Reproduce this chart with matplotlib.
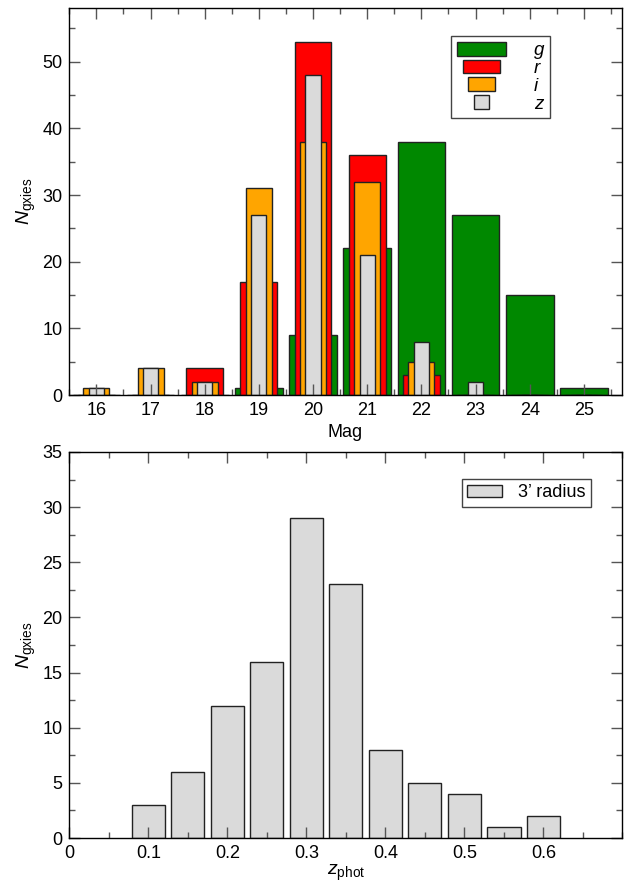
import matplotlib
matplotlib.use("Agg")
import matplotlib.pyplot as plt
from matplotlib.patches import Rectangle
from matplotlib.legend_handler import HandlerPatch
from matplotlib.ticker import MultipleLocator

plt.rcParams['font.family'] = ['Liberation Sans', 'DejaVu Sans']
plt.rcParams['mathtext.fontset'] = 'custom'
plt.rcParams['mathtext.rm'] = 'Liberation Sans'
plt.rcParams['mathtext.it'] = 'Liberation Sans:italic'

# ---------------- data ----------------
mags = [16, 17, 18, 19, 20, 21, 22, 23, 24, 25]
g_counts = [0, 0, 0, 1, 9, 22, 38, 27, 15, 1]
r_counts = [0, 0, 4, 17, 53, 36, 3, 0, 0, 0]
i_counts = [1, 4, 2, 31, 38, 32, 5, 0, 0, 0]
z_counts = [1, 4, 2, 27, 48, 21, 8, 2, 0, 0]
band_labels = ['g', 'r', 'i', 'z']

zphot = [0.10, 0.15, 0.20, 0.25, 0.30, 0.35, 0.40, 0.45, 0.50, 0.55, 0.60]
zphot_counts = [3, 6, 12, 16, 29, 23, 8, 5, 4, 1, 2]
zphot_label = "3\u2019 radius"

# ---------------- style ----------------
colors = ['#008800', '#ff0000', '#ffa500', '#dadada']
widths = [0.88, 0.68, 0.48, 0.28]
edge = '#222222'
tick_col = '#555555'
fs = 13


class ScaledHandler(HandlerPatch):
    def __init__(self, frac):
        super().__init__()
        self.frac = frac

    def create_artists(self, legend, orig_handle, xdescent, ydescent,
                       width, height, fontsize, trans):
        w = width * self.frac
        x0 = -xdescent + (width - w) / 2.0
        p = Rectangle((x0, -ydescent), w, height)
        self.update_prop(p, orig_handle, legend)
        p.set_transform(trans)
        return [p]


def style_axes(ax, xmaj, xmin, ymaj, ymin):
    ax.xaxis.set_major_locator(MultipleLocator(xmaj))
    ax.xaxis.set_minor_locator(MultipleLocator(xmin))
    ax.yaxis.set_major_locator(MultipleLocator(ymaj))
    ax.yaxis.set_minor_locator(MultipleLocator(ymin))
    ax.tick_params(which='both', direction='in', top=True, right=True,
                   color=tick_col, width=1.0, labelsize=fs, pad=5)
    ax.tick_params(which='major', length=8)
    ax.tick_params(which='minor', length=4)
    for s in ax.spines.values():
        s.set_linewidth(1.0)
        s.set_color('black')


fig = plt.figure(figsize=(6.3, 8.84), dpi=100)
ax1 = fig.add_axes([0.110, 0.553, 0.877, 0.4376])
ax2 = fig.add_axes([0.110, 0.052, 0.878, 0.4367])

# ---------------- top panel ----------------
series = [g_counts, r_counts, i_counts, z_counts]
handles = []
for vals, c, w, lab in zip(series, colors, widths, band_labels):
    bars = ax1.bar(mags, vals, width=w, color=c, edgecolor=edge,
                   linewidth=1.0, label=lab)
    handles.append(bars.patches[0])

ax1.set_xlim(15.5, 25.7)
ax1.set_ylim(0, 58)
style_axes(ax1, 1, 0.5, 10, 5)
ax1.set_xlabel('Mag', fontsize=fs, labelpad=3.5)
ax1.set_ylabel(r'$N_{\rm gxies}$', fontsize=fs + 1, labelpad=3)

hmap = {h: ScaledHandler(w / widths[0]) for h, w in zip(handles, widths)}
leg1 = ax1.legend(handles, band_labels, handler_map=hmap,
                  loc='upper right', bbox_to_anchor=(0.870, 0.928),
                  borderaxespad=0,
                  prop={'style': 'italic', 'size': 13.5},
                  handlelength=2.6, handleheight=0.75, labelspacing=0.02,
                  handletextpad=1.5, borderpad=0.3, fancybox=False,
                  framealpha=1, edgecolor='#444444')
leg1.get_frame().set_linewidth(1.0)

# ---------------- bottom panel ----------------
ax2.bar(zphot, zphot_counts, width=0.042, color=colors[3], edgecolor=edge,
        linewidth=1.0, label=zphot_label)
ax2.set_xlim(0, 0.7)
ax2.set_ylim(0, 35)
style_axes(ax2, 0.1, 0.05, 5, 2.5)
ax2.set_xticks([0, 0.1, 0.2, 0.3, 0.4, 0.5, 0.6])
ax2.set_xticklabels(['0', '0.1', '0.2', '0.3', '0.4', '0.5', '0.6'])
ax2.set_xlabel(r'$z_{\rm phot}$', fontsize=fs + 1, labelpad=0.5)
ax2.set_ylabel(r'$N_{\rm gxies}$', fontsize=fs + 1, labelpad=3)
leg2 = ax2.legend(loc='upper right', bbox_to_anchor=(0.943, 0.930),
                  borderaxespad=0, fontsize=13, handlelength=1.9,
                  handletextpad=0.9, borderpad=0.3, fancybox=False,
                  framealpha=1, edgecolor='#444444')
leg2.get_frame().set_linewidth(1.0)

fig.savefig('out.png', dpi=100)
